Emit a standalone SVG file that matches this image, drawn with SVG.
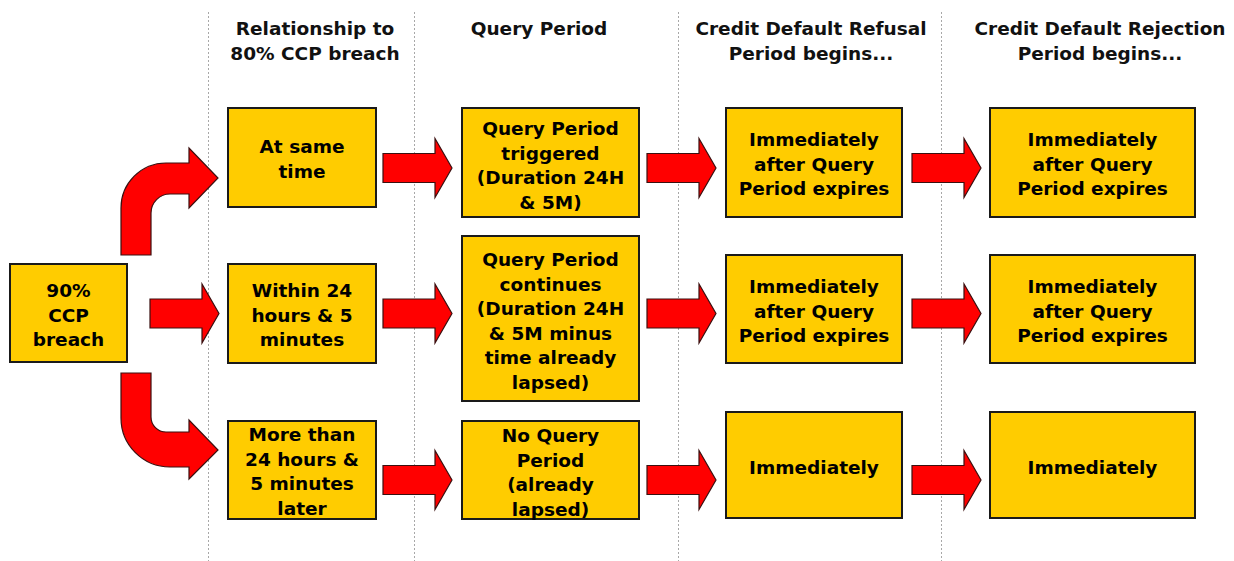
<svg xmlns="http://www.w3.org/2000/svg" xmlns:xlink="http://www.w3.org/1999/xlink" width="1234" height="561" viewBox="0 0 1234 561">
<style>
.box{fill:#FFCC00;stroke:#1a1a1a;stroke-width:2}
.t{font-family:"DejaVu Sans","Verdana",sans-serif;font-weight:bold;font-size:18.5px;fill:#000;text-anchor:middle}
.h{font-family:"DejaVu Sans","Verdana",sans-serif;font-weight:bold;font-size:18.5px;fill:#111;text-anchor:middle}
.arr{fill:#FF0000;stroke:#3a1010;stroke-width:1.2;stroke-linejoin:miter}
.div{stroke:#a8a8a8;stroke-width:1;stroke-dasharray:2,2}
</style>
<defs>
<path id="arrow" d="M0,-14.5 H52 V-29.5 L69,0 L52,29.5 V14.5 H0 Z"/>
</defs>
<rect width="1234" height="561" fill="#ffffff"/>
<g id="dividers">
<line class="div" x1="208.5" y1="12" x2="208.5" y2="561"/>
<line class="div" x1="414.5" y1="12" x2="414.5" y2="561"/>
<line class="div" x1="678.5" y1="12" x2="678.5" y2="561"/>
<line class="div" x1="941.5" y1="12" x2="941.5" y2="561"/>
</g>
<g id="headers">
<text class="h" x="315" y="35">Relationship to</text>
<text class="h" x="315" y="60">80% CCP breach</text>
<text class="h" x="539" y="35">Query Period</text>
<text class="h" x="811" y="35">Credit Default Refusal</text>
<text class="h" x="811" y="60">Period begins...</text>
<text class="h" x="1100" y="35">Credit Default Rejection</text>
<text class="h" x="1100" y="60">Period begins...</text>
</g>
<g id="connectors">
<path class="arr" d="M121,255 V208 A45,45 0 0 1 166,163 H189 V148 L218,178 L189,208 V194 H170 A19,19 0 0 0 151,213 V255 Z"/>
<path class="arr" d="M121,373 H151 V417 A15,15 0 0 0 166,432 H189 V420 L218,450 L189,479 V467 H170 A49,49 0 0 1 121,418 Z"/>
<use href="#arrow" class="arr" x="150" y="313.5"/>
<use href="#arrow" class="arr" x="383" y="168"/>
<use href="#arrow" class="arr" x="647" y="168"/>
<use href="#arrow" class="arr" x="912" y="168"/>
<use href="#arrow" class="arr" x="383" y="313.5"/>
<use href="#arrow" class="arr" x="647" y="313.5"/>
<use href="#arrow" class="arr" x="912" y="313.5"/>
<use href="#arrow" class="arr" x="383" y="480"/>
<use href="#arrow" class="arr" x="647" y="480"/>
<use href="#arrow" class="arr" x="912" y="480"/>
</g>
<g id="n-ccp90">
<rect class="box" x="10" y="264" width="117" height="98"/>
<text class="t" x="68.5" y="297">90%</text>
<text class="t" x="68.5" y="321.5">CCP</text>
<text class="t" x="68.5" y="346">breach</text>
</g>
<g id="n-same-time">
<rect class="box" x="228" y="108" width="148" height="99"/>
<text class="t" x="302" y="153">At same</text>
<text class="t" x="302" y="177.5">time</text>
</g>
<g id="n-within">
<rect class="box" x="228" y="264" width="148" height="99"/>
<text class="t" x="302" y="297">Within 24</text>
<text class="t" x="302" y="321.5">hours &amp; 5</text>
<text class="t" x="302" y="346">minutes</text>
</g>
<g id="n-more-than">
<rect class="box" x="228" y="421" width="148" height="98"/>
<text class="t" x="302" y="441">More than</text>
<text class="t" x="302" y="465.5">24 hours &amp;</text>
<text class="t" x="302" y="490">5 minutes</text>
<text class="t" x="302" y="514.5">later</text>
</g>
<g id="n-qp-triggered">
<rect class="box" x="462" y="108" width="177" height="109"/>
<text class="t" x="550.5" y="135">Query Period</text>
<text class="t" x="550.5" y="159.5">triggered</text>
<text class="t" x="550.5" y="184">(Duration 24H</text>
<text class="t" x="550.5" y="208.5">&amp; 5M)</text>
</g>
<g id="n-qp-continues">
<rect class="box" x="462" y="236" width="177" height="165"/>
<text class="t" x="550.5" y="266">Query Period</text>
<text class="t" x="550.5" y="290.5">continues</text>
<text class="t" x="550.5" y="315">(Duration 24H</text>
<text class="t" x="550.5" y="339.5">&amp; 5M minus</text>
<text class="t" x="550.5" y="364">time already</text>
<text class="t" x="550.5" y="388.5">lapsed)</text>
</g>
<g id="n-no-qp">
<rect class="box" x="462" y="421" width="177" height="98"/>
<text class="t" x="550.5" y="442">No Query</text>
<text class="t" x="550.5" y="466.5">Period</text>
<text class="t" x="550.5" y="491">(already</text>
<text class="t" x="550.5" y="515.5">lapsed)</text>
</g>
<g id="n-refusal-1">
<rect class="box" x="726" y="108" width="176" height="109"/>
<text class="t" x="814" y="146">Immediately</text>
<text class="t" x="814" y="170.5">after Query</text>
<text class="t" x="814" y="195">Period expires</text>
</g>
<g id="n-refusal-2">
<rect class="box" x="726" y="255" width="176" height="108"/>
<text class="t" x="814" y="293">Immediately</text>
<text class="t" x="814" y="317.5">after Query</text>
<text class="t" x="814" y="342">Period expires</text>
</g>
<g id="n-refusal-3">
<rect class="box" x="726" y="412" width="176" height="106"/>
<text class="t" x="814" y="474">Immediately</text>
</g>
<g id="n-rejection-1">
<rect class="box" x="990" y="108" width="205" height="109"/>
<text class="t" x="1092.5" y="146">Immediately</text>
<text class="t" x="1092.5" y="170.5">after Query</text>
<text class="t" x="1092.5" y="195">Period expires</text>
</g>
<g id="n-rejection-2">
<rect class="box" x="990" y="255" width="205" height="108"/>
<text class="t" x="1092.5" y="293">Immediately</text>
<text class="t" x="1092.5" y="317.5">after Query</text>
<text class="t" x="1092.5" y="342">Period expires</text>
</g>
<g id="n-rejection-3">
<rect class="box" x="990" y="412" width="205" height="106"/>
<text class="t" x="1092.5" y="474">Immediately</text>
</g>
</svg>
